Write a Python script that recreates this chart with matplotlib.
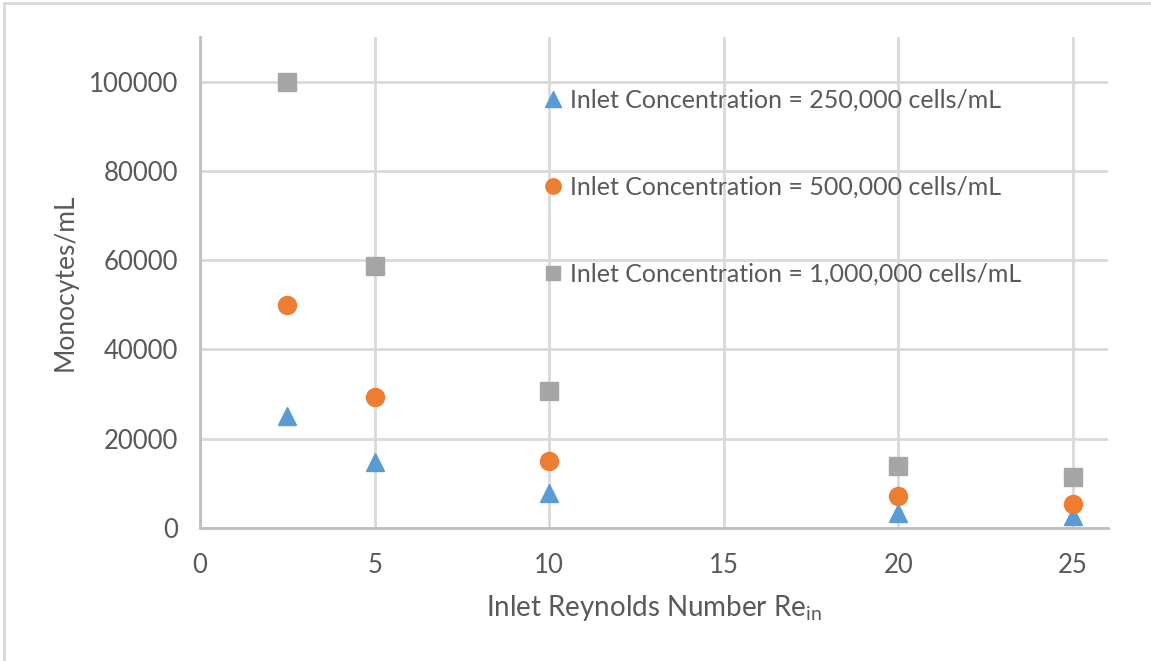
import matplotlib
matplotlib.use("Agg")
import matplotlib.pyplot as plt
from matplotlib.lines import Line2D

plt.rcParams['font.family'] = ['Lato', 'DejaVu Sans']

# Inlet Reynolds numbers and measured monocyte concentrations
reynolds = [2.5, 5, 10, 20, 25]
conc_250k = [25000, 14700, 7800, 3400, 2700]
conc_500k = [50000, 29400, 15000, 7200, 5450]
conc_1m = [100000, 58700, 30700, 14000, 11400]

series_labels = [
    "Inlet Concentration = 250,000 cells/mL",
    "Inlet Concentration = 500,000 cells/mL",
    "Inlet Concentration = 1,000,000 cells/mL",
]

x_ticks = [0, 5, 10, 15, 20, 25]
y_ticks = [0, 20000, 40000, 60000, 80000, 100000]

TEXT = '#595959'
GRID = '#D9D9D9'
AXIS = '#BFBFBF'

fig = plt.figure(figsize=(11.51, 6.61), dpi=100)
ax = fig.add_axes([200 / 1151, 1 - 528 / 661, 908 / 1151, 491 / 661])

ax.plot(reynolds, conc_250k, linestyle='none', marker='^', markersize=13,
        color='#5B9BD5', label=series_labels[0], zorder=3)
ax.plot(reynolds, conc_500k, linestyle='none', marker='o', markersize=13,
        color='#ED7D31', label=series_labels[1], zorder=3)
ax.plot(reynolds, conc_1m, linestyle='none', marker='s', markersize=12.5,
        color='#A5A5A5', label=series_labels[2], zorder=3)

ax.set_xlim(0, 26)
ax.set_ylim(0, 110000)
ax.set_xticks(x_ticks)
ax.set_yticks(y_ticks)
ax.set_xticklabels([str(v) for v in x_ticks])
ax.set_yticklabels([str(v) for v in y_ticks])

ax.grid(True, color=GRID, linewidth=2, zorder=0)
ax.set_axisbelow(True)
for side in ('top', 'right'):
    ax.spines[side].set_visible(False)
for side in ('left', 'bottom'):
    ax.spines[side].set_color(AXIS)
    ax.spines[side].set_linewidth(2)

ax.tick_params(axis='both', length=0, labelsize=18.5, labelcolor=TEXT)
ax.tick_params(axis='y', pad=16)
ax.tick_params(axis='x', pad=18)

ax.set_xlabel("Inlet Reynolds Number Re$_{\\mathregular{in}}$", fontsize=20,
              color=TEXT, labelpad=11)
ax.set_ylabel("Monocytes/mL", fontsize=19, color=TEXT, labelpad=8)

leg = ax.legend(loc='upper left', bbox_to_anchor=(342 / 908, 1 - 52 / 491),
                frameon=False, fontsize=18, labelcolor=TEXT,
                handletextpad=0.2, handlelength=0.9, labelspacing=2.55,
                borderaxespad=0, borderpad=0, markerscale=0.85)

# Chart area border along the top and left edges
fig.add_artist(Line2D([4 / 1151, 1], [1 - 3 / 661, 1 - 3 / 661],
                      transform=fig.transFigure, color=GRID, linewidth=2))
fig.add_artist(Line2D([4 / 1151, 4 / 1151], [0, 1 - 3 / 661],
                      transform=fig.transFigure, color=GRID, linewidth=2))

fig.savefig("out.png", dpi=100)
